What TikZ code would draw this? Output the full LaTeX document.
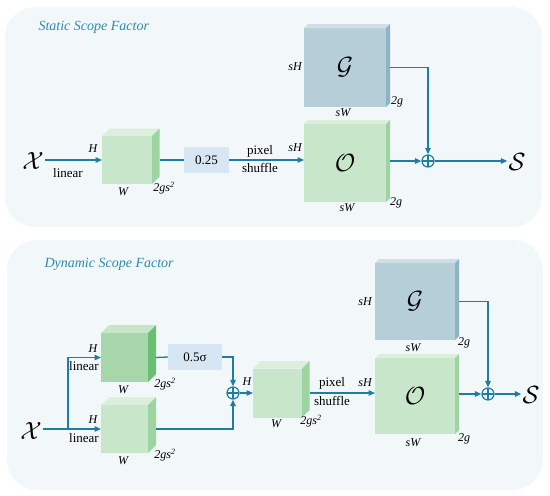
\documentclass[tikz,border=0pt]{standalone}
\usepackage{fontspec}
\setmainfont{Liberation Serif}
\usetikzlibrary{arrows.meta}

\definecolor{panelfill}{HTML}{F2F8FA}
\definecolor{linecol}{HTML}{1E7DA5}
\definecolor{titlecol}{HTML}{2B8AAE}
\definecolor{greenfront}{HTML}{C8E6CA}
\definecolor{greenside}{HTML}{9ED4A2}
\definecolor{greentop}{HTML}{DCEFDD}
\definecolor{darkfront}{HTML}{A6D6A9}
\definecolor{darkside}{HTML}{6BBF73}
\definecolor{darktop}{HTML}{C6E6C7}
\definecolor{gatefront}{HTML}{B5CED8}
\definecolor{gateside}{HTML}{8DB3C4}
\definecolor{gatetop}{HTML}{CFDFE5}
\definecolor{scalefill}{HTML}{D6E7F3}

\tikzset{
  panel/.style={fill=panelfill, rounded corners=30pt},
  title/.style={anchor=west, text=titlecol, font=\fontsize{14}{16}\selectfont\itshape},
  flow/.style={draw=linecol, line width=1.3pt},
  flowarrow/.style={flow, -{Triangle[length=6.5pt,width=5.5pt]}},
  face/.style={inner sep=0pt, outer sep=0pt},
  scalebox/.style={fill=scalefill, inner sep=0pt, outer sep=0pt},
  dimlab/.style={font=\fontsize{12}{13}\selectfont\itshape},
  bigsym/.style={inner sep=1pt, font=\fontsize{24.88}{26}\selectfont},
  sumnode/.style={circle, draw=linecol, line width=1.2pt, minimum size=12pt, inner sep=0pt,
    path picture={\draw[linecol, line width=1.2pt]
      (path picture bounding box.north) -- (path picture bounding box.south)
      (path picture bounding box.west) -- (path picture bounding box.east);}}
}

% top and side faces of a box drawn behind its front node
\newcommand{\boxfaces}[4]{%
  \fill[#3] (#1.north west) -- ++(#2,-#2) -- ([shift={(#2,-#2)}]#1.north east) -- (#1.north east) -- cycle;
  \fill[#4] (#1.north east) -- ++(#2,-#2) -- ([shift={(#2,-#2)}]#1.south east) -- (#1.south east) -- cycle;}

\begin{document}
\begin{tikzpicture}[x=1pt, y=-1pt, font=\fontsize{13}{15}\selectfont]
\useasboundingbox (0,0) rectangle (550,496);

% static scope factor
\fill[panel] (5,7) rectangle (542,227);
\node[title] (titleA) at (35,27) {Static Scope Factor};

\node[bigsym] (inA) at (33,161) {$\mathcal{X}$};
\node[face, fill=greenfront, minimum width=50pt, minimum height=48pt] (linA) at (127,160) {};
\boxfaces{linA}{7.5}{greentop}{greenside}
\node[scalebox, minimum width=45pt, minimum height=26pt] (sclA) at (206.5,160) {0.25};
\node[face, fill=gatefront, minimum width=82pt, minimum height=79pt] (gateA) at (345,67.5) {};
\boxfaces{gateA}{4}{gatetop}{gateside}
\node[bigsym] at (gateA) {$\mathcal{G}$};
\node[face, fill=greenfront, minimum width=82pt, minimum height=78pt] (offA) at (345,163) {};
\boxfaces{offA}{4}{greentop}{greenside}
\node[bigsym] at (offA) {$\mathcal{O}$};
\node[sumnode] (sumA) at (428,161) {};
\node[bigsym] (outA) at (517,162) {$\mathcal{S}$};

\node[dimlab] at (93,149) {H};
\node at (68,173) {linear};
\node[dimlab] at (123,192) {W};
\node[dimlab] at (164,188) {2gs\textsuperscript{2}};
\node at (260,151) {pixel};
\node at (260,168) {shuffle};
\node[dimlab] at (295,67) {sH};
\node[dimlab] at (343,113) {sW};
\node[dimlab] at (397,102) {2g};
\node[dimlab] at (295,148) {sH};
\node[dimlab] at (347,208) {sW};
\node[dimlab] at (396,203) {2g};

\draw[flowarrow] (inA.east |- linA) -- (linA.west);
\draw[flow] ([xshift=7.5pt]linA.east) -- (sclA.west);
\draw[flowarrow] (sclA.east) -- (sclA.east -| offA.west);
\draw[flowarrow] ([xshift=4pt]gateA.east) -| (sumA.north);
\draw[flowarrow] ([xshift=4pt]offA.east |- sumA) -- (sumA.west);
\draw[flowarrow] (sumA.east) -- (sumA -| outA.west);

% dynamic scope factor
\fill[panel] (7,240) rectangle (543,490);
\node[title] (titleB) at (41,264) {Dynamic Scope Factor};

\node[bigsym] (inB) at (31,431) {$\mathcal{X}$};
\coordinate (split) at (68,429);
\node[face, fill=darkfront, minimum width=47pt, minimum height=49pt] (linB) at (124.5,357.5) {};
\boxfaces{linB}{8}{darktop}{darkside}
\node[face, fill=greenfront, minimum width=47pt, minimum height=48pt] (linC) at (124.5,429) {};
\boxfaces{linC}{8}{greentop}{greenside}
\node[scalebox, minimum width=54pt, minimum height=26pt] (sclB) at (195,357) {0.5σ};
\node[sumnode] (sumB) at (233,393) {};
\node[face, fill=greenfront, minimum width=49pt, minimum height=49pt] (mixB) at (277.5,393) {};
\boxfaces{mixB}{7.5}{greentop}{greenside}
\node[face, fill=gatefront, minimum width=80pt, minimum height=77pt] (gateB) at (415,301.5) {};
\boxfaces{gateB}{4}{gatetop}{gateside}
\node[bigsym] at (gateB) {$\mathcal{G}$};
\node[face, fill=greenfront, minimum width=80pt, minimum height=76pt] (offB) at (415,396) {};
\boxfaces{offB}{4}{greentop}{greenside}
\node[bigsym] at (offB) {$\mathcal{O}$};
\node[sumnode] (sumC) at (488,394) {};
\node[bigsym] (outB) at (531,395) {$\mathcal{S}$};

\node[dimlab] at (93,349) {H};
\node at (84,366) {linear};
\node[dimlab] at (123,390) {W};
\node[dimlab] at (165,384) {2gs\textsuperscript{2}};
\node[dimlab] at (93,420) {H};
\node at (84,438) {linear};
\node[dimlab] at (123,461) {W};
\node[dimlab] at (165,455) {2gs\textsuperscript{2}};
\node[dimlab] at (247,382) {H};
\node[dimlab] at (276,424) {W};
\node[dimlab] at (311,421) {2gs\textsuperscript{2}};
\node at (332,383) {pixel};
\node at (332,401) {shuffle};
\node[dimlab] at (365,302) {sH};
\node[dimlab] at (413,348) {sW};
\node[dimlab] at (464,343) {2g};
\node[dimlab] at (365,383) {sH};
\node[dimlab] at (413,443) {sW};
\node[dimlab] at (464,439) {2g};

\draw[flow] (inB.east |- split) -- (split);
\draw[flowarrow] (split) |- (linB.west);
\draw[flowarrow] (split) -- (linC.west);
\draw[flow] ([xshift=8pt]linB.east) -- (sclB.west);
\draw[flowarrow] (sclB.east) -| (sumB.north);
\draw[flowarrow] ([xshift=8pt]linC.east) -| (sumB.south);
\draw[flowarrow] (sumB.east) -- (mixB.west);
\draw[flowarrow] ([xshift=7.5pt]mixB.east) -- (mixB.east -| offB.west);
\draw[flowarrow] ([xshift=4pt]gateB.east) -| (sumC.north);
\draw[flowarrow] ([xshift=4pt]offB.east |- sumC) -- (sumC.west);
\draw[flowarrow] (sumC.east) -- (sumC -| outB.west);
\end{tikzpicture}
\end{document}
